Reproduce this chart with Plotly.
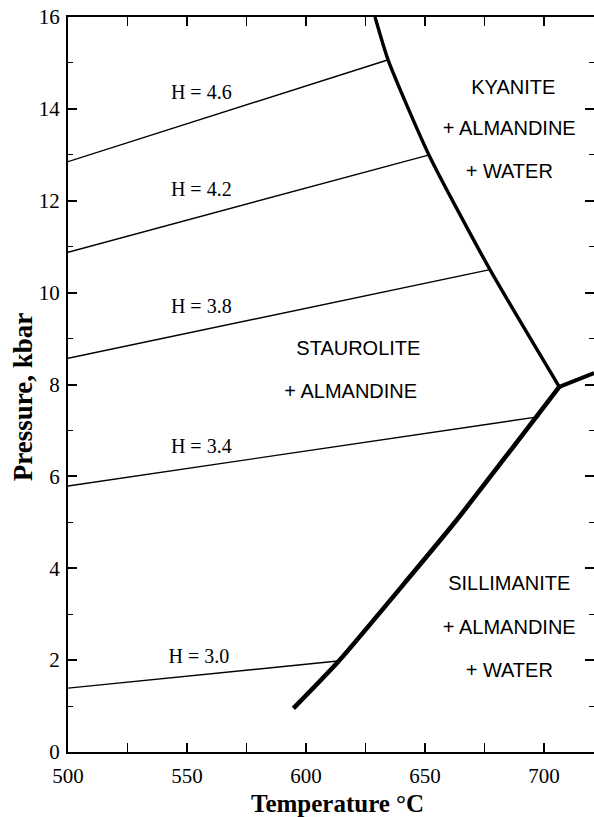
import plotly.graph_objects as go

# ---- data ----
# H isopleths (temperature °C, pressure kbar)
h_labels = ["H = 4.6", "H = 4.2", "H = 3.8", "H = 3.4", "H = 3.0"]
h46_T = [500, 634.6]
h46_P = [12.85, 15.07]
h42_T = [500, 651.8]
h42_P = [10.88, 13.0]
h38_T = [500, 677.3]
h38_P = [8.57, 10.5]
h34_T = [500, 631, 698]
h34_P = [5.79, 6.80, 7.30]
h30_T = [500, 613.4]
h30_P = [1.39, 1.98]

# label anchor positions for H labels
hlab_T = [556, 556, 556, 556, 555]
hlab_P = [14.33, 12.22, 9.66, 6.61, 2.04]

# phase boundaries
kyanite_T = [629, 634.6, 651.8, 677.3, 706.4]
kyanite_P = [16.0, 15.05, 12.98, 10.5, 7.95]
upper_T = [706.4, 721]
upper_P = [7.95, 8.25]
sill_T = [594.7, 613.6, 643.7, 663.3, 706.4]
sill_P = [0.95, 1.97, 3.82, 5.05, 7.95]

# region labels
region_text = ["KYANITE", "+ ALMANDINE", "+ WATER",
               "STAUROLITE", "+ ALMANDINE",
               "SILLIMANITE", "+ ALMANDINE", "+ WATER"]
region_T = [687.1, 685.4, 685.4, 622.0, 618.8, 685.4, 685.4, 685.4]
region_P = [14.44, 13.54, 12.61, 8.76, 7.82, 3.63, 2.67, 1.75]

x_ticks = [500, 550, 600, 650, 700]
y_ticks = [0, 2, 4, 6, 8, 10, 12, 14, 16]
x_title = "Temperature °C"
y_title = "Pressure, kbar"

fig = go.Figure()

for T, P in [(h46_T, h46_P), (h42_T, h42_P), (h38_T, h38_P), (h34_T, h34_P), (h30_T, h30_P)]:
    fig.add_trace(go.Scatter(x=T, y=P, mode="lines",
                             line=dict(color="black", width=1.4), showlegend=False,
                             hoverinfo="skip"))

fig.add_trace(go.Scatter(x=kyanite_T, y=kyanite_P, mode="lines",
                         line=dict(color="black", width=3.4, shape="spline", smoothing=0.6),
                         showlegend=False, hoverinfo="skip"))
fig.add_trace(go.Scatter(x=upper_T, y=upper_P, mode="lines",
                         line=dict(color="black", width=4), showlegend=False, hoverinfo="skip"))
fig.add_trace(go.Scatter(x=sill_T, y=sill_P, mode="lines",
                         line=dict(color="black", width=4.6, shape="spline", smoothing=0.6),
                         showlegend=False, hoverinfo="skip"))

fig.add_trace(go.Scatter(x=hlab_T, y=hlab_P, mode="text", text=h_labels,
                         textfont=dict(family="Liberation Serif", size=20, color="black"),
                         showlegend=False, hoverinfo="skip"))
fig.add_trace(go.Scatter(x=region_T, y=region_P, mode="text", text=region_text,
                         textfont=dict(family="Liberation Sans", size=20, color="black"),
                         showlegend=False, hoverinfo="skip"))
# invisible trace to carry the right-hand tick axis
fig.add_trace(go.Scatter(x=[500], y=[0], yaxis="y2", mode="markers",
                         marker=dict(opacity=0), showlegend=False, hoverinfo="skip"))

tick_font = dict(family="Liberation Serif", size=21, color="black")

fig.update_layout(
    xaxis=dict(range=[500, 721], tickvals=x_ticks,
               showline=True, linecolor="black", linewidth=2, mirror="allticks",
               ticks="inside", ticklen=9, tickwidth=1.8, tickcolor="black",
               minor=dict(ticks="inside", ticklen=5, tickwidth=1.2, tickcolor="black", dtick=25, tick0=500),
               showgrid=False, zeroline=False, tickfont=tick_font, ticklabelstandoff=4),
    yaxis=dict(range=[0, 16], tickvals=y_ticks,
               showline=True, linecolor="black", linewidth=2, mirror=False,
               ticks="inside", ticklen=9, tickwidth=1.8, tickcolor="black",
               minor=dict(ticks="inside", ticklen=5, tickwidth=1.2, tickcolor="black", dtick=1, tick0=0),
               showgrid=False, zeroline=False, tickfont=tick_font, ticklabelstandoff=2),
    yaxis2=dict(range=[0, 16], overlaying="y", side="right", tickvals=y_ticks,
                showline=False, showticklabels=False,
                ticks="inside", ticklen=9, tickwidth=1.8, tickcolor="black",
                minor=dict(ticks="inside", ticklen=5, tickwidth=1.2, tickcolor="black", dtick=1, tick0=0),
                showgrid=False, zeroline=False),
    width=594, height=817,
    margin=dict(l=68, r=0, t=17, b=65),
    plot_bgcolor="white", paper_bgcolor="white",
    font=dict(family="Liberation Serif", color="black"),
    annotations=[
        dict(text="<b>" + x_title + "</b>", xref="paper", yref="paper",
             x=0.513, y=-0.0705, xanchor="center", yanchor="middle", showarrow=False,
             font=dict(family="Liberation Serif", size=25, color="black")),
        dict(text="<b>" + y_title + "</b>", xref="paper", yref="paper",
             x=-0.0856, y=0.484, xanchor="center", yanchor="middle", showarrow=False,
             textangle=-90, font=dict(family="Liberation Serif", size=27, color="black")),
    ],
)

fig.write_html("out.html", config={"displayModeBar": False},
               post_script="document.body.style.margin='0';")
